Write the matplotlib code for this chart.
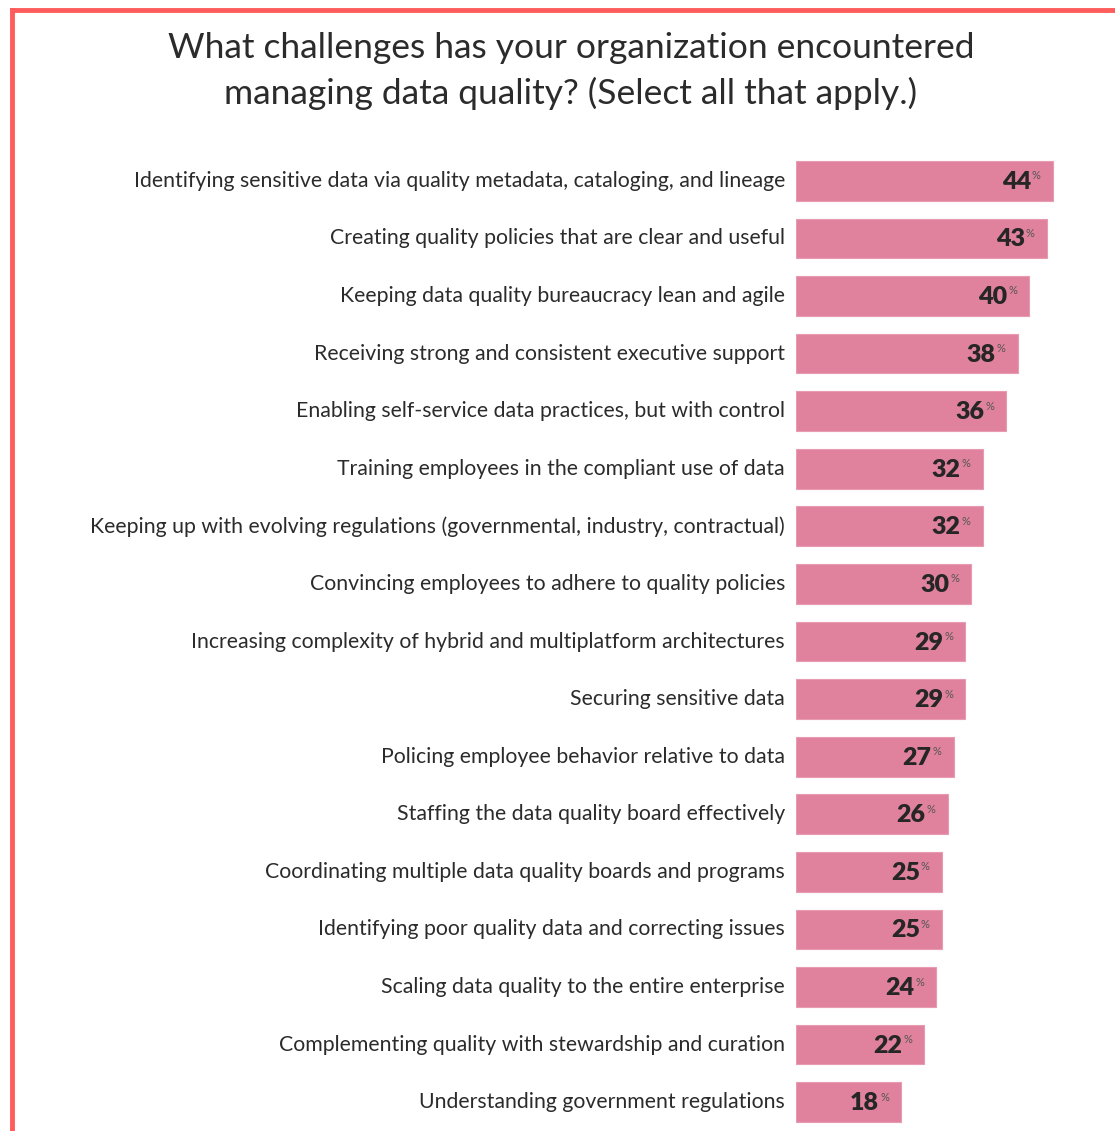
import matplotlib.pyplot as plt
from matplotlib.lines import Line2D

challenges = [
    'Identifying sensitive data via quality metadata, cataloging, and lineage',
    'Creating quality policies that are clear and useful',
    'Keeping data quality bureaucracy lean and agile',
    'Receiving strong and consistent executive support',
    'Enabling self-service data practices, but with control',
    'Training employees in the compliant use of data',
    'Keeping up with evolving regulations (governmental, industry, contractual)',
    'Convincing employees to adhere to quality policies',
    'Increasing complexity of hybrid and multiplatform architectures',
    'Securing sensitive data',
    'Policing employee behavior relative to data',
    'Staffing the data quality board effectively',
    'Coordinating multiple data quality boards and programs',
    'Identifying poor quality data and correcting issues',
    'Scaling data quality to the entire enterprise',
    'Complementing quality with stewardship and curation',
    'Understanding government regulations',
]
pct = [44, 43, 40, 38, 36, 32, 32, 30, 29, 29, 27, 26, 25, 25, 24, 22, 18]

plt.rcParams['font.family'] = ['Lato', 'DejaVu Sans']

fig = plt.figure(figsize=(11.15, 11.31), dpi=100)
ax = fig.add_axes([796 / 1115, 0.0, 321 / 1115, 1 - 152 / 1131])

y = range(len(pct))
ax.barh(y, pct, height=0.69, color='#E0829D', edgecolor='#E79AB0', linewidth=0.8)
ax.set_xlim(0, 55)
ax.set_ylim(len(pct) - 0.5, -0.5)
ax.axis('off')

for i, (lab, v) in enumerate(zip(challenges, pct)):
    ax.annotate(lab, (0, i), xytext=(-11, 0), textcoords='offset pixels',
                ha='right', va='center', fontsize=15.3, color='#2b2b2b')
    ax.annotate(str(v), (v, i), xytext=(-22, -1), textcoords='offset pixels',
                ha='right', va='center', fontsize=18, fontweight='heavy', color='#262626')
    ax.annotate('%', (v, i), xytext=(-21, 5), textcoords='offset pixels',
                ha='left', va='center', fontsize=8, color='#555555')

fig.text(0.512, 1 - 48 / 1131, 'What challenges has your organization encountered',
         ha='center', va='center', fontsize=25.5, color='#2b2b2b')
fig.text(0.512, 1 - 93 / 1131, 'managing data quality? (Select all that apply.)',
         ha='center', va='center', fontsize=25.5, color='#2b2b2b')

# red frame of the screenshot
fig.add_artist(Line2D([12 / 1115, 12 / 1115], [0, 1 - 10 / 1131], color='#FF5C5C', lw=3.5,
                      transform=fig.transFigure, solid_capstyle='projecting'))
fig.add_artist(Line2D([12 / 1115, 1], [1 - 10 / 1131, 1 - 10 / 1131], color='#FF5C5C', lw=3.5,
                      transform=fig.transFigure, solid_capstyle='projecting'))

fig.savefig('out.png', dpi=100)
